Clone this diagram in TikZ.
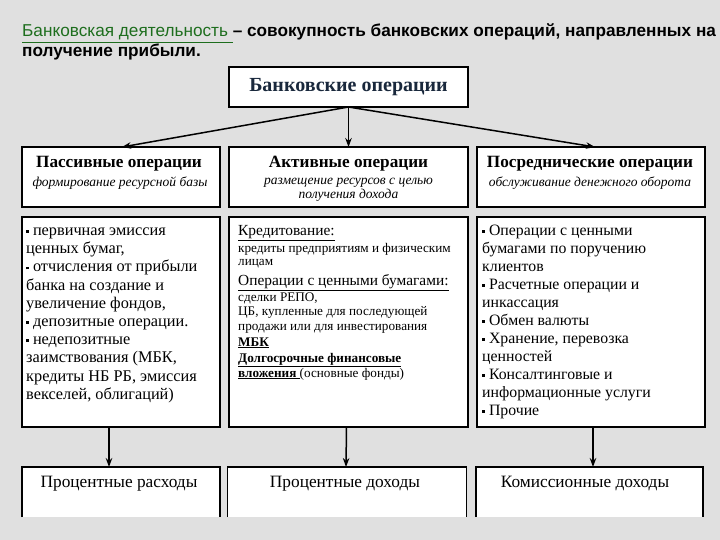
\documentclass[tikz,border=0pt]{standalone}
\usepackage{fontspec}
\setmainfont{Liberation Serif}
\newfontfamily\hsans{Liberation Sans}
\usetikzlibrary{arrows.meta}
\definecolor{bgc}{RGB}{224,224,224}
\definecolor{titlegreen}{RGB}{30,110,30}
\definecolor{navy}{RGB}{25,40,60}
\newcommand\bul{\raisebox{2.6pt}{\rule{2.8pt}{2.8pt}}\hspace{4pt}}
\begin{document}
\begin{tikzpicture}[x=1pt,y=-1pt,
  box/.style={draw=black,line width=1.2pt,fill=white,inner sep=0pt,outer sep=0pt},
  openbox/.style={fill=white,inner sep=0pt,outer sep=0pt},
  arr/.style={line width=1.5pt,-{Stealth[length=9pt,width=6.5pt]}},
  ln/.style={anchor=base west,inner sep=0pt,font=\fontsize{16.3}{18}\selectfont},
  rn/.style={anchor=base west,inner sep=0pt,font=\fontsize{15.8}{18}\selectfont},
  mn/.style={anchor=base west,inner sep=0pt,font=\fontsize{15.4}{18}\selectfont},
  sm/.style={anchor=base west,inner sep=0pt,font=\fontsize{13.2}{15}\selectfont},
  smb/.style={anchor=base west,inner sep=0pt,font=\bfseries\fontsize{13.2}{15}\selectfont},
  hd/.style={anchor=base,inner sep=0pt,font=\bfseries\fontsize{17.2}{19}\selectfont},
  sub/.style={anchor=base,inner sep=0pt,font=\itshape\fontsize{13.5}{15}\selectfont},
  bt/.style={anchor=base,inner sep=0pt,font=\fontsize{17.3}{19}\selectfont}]
\useasboundingbox (0,0) rectangle (720,540);
\fill[bgc] (0,0) rectangle (720,540);

% heading
\node[anchor=base west,inner sep=0pt,font=\hsans\fontsize{17.2}{20}\selectfont] (h1) at (22,37)
  {\textcolor{titlegreen}{\underline{Банковская деятельность }}\textbf{– совокупность банковских операций, направленных на}};
\node[anchor=base west,inner sep=0pt,font=\hsans\bfseries\fontsize{17.2}{20}\selectfont] (h2) at (22,57) {получение прибыли.};

% top box
\node[box,minimum width=239pt,minimum height=40pt,font=\bfseries\fontsize{20}{22}\selectfont,text=navy] (top) at (348.5,87) {Банковские операции};

% header row
\node[box,minimum width=198pt,minimum height=60pt] (pas) at (121,177) {};
\node[box,minimum width=239pt,minimum height=60pt] (act) at (348.5,177) {};
\node[box,minimum width=228pt,minimum height=60pt] (pos) at (591,177) {};

\node[hd] (pasT) at (119,167.5) {Пассивные операции};
\node[sub] (pasS) at (120,187) {формирование ресурсной базы};
\node[hd] (actT) at (348.5,167.5) {Активные операции};
\node[sub] (actS1) at (348.5,185) {размещение ресурсов с целью};
\node[sub] (actS2) at (348.5,199) {получения дохода};
\node[hd] (posT) at (590,167.5) {Посреднические операции};
\node[sub] (posS) at (590,187) {обслуживание денежного оборота};

\draw[arr] (top.south) -- ([xshift=1pt]pas.north);
\draw[arr] (top.south) -- (act.north);
\draw[arr] (top.south) -- ([xshift=4pt]pos.north);

% content row
\node[box,minimum width=198pt,minimum height=210pt] (c1) at (121,322) {};
\node[box,minimum width=239pt,minimum height=210pt] (c2) at (348.5,322) {};
\node[box,minimum width=228pt,minimum height=210pt] (c3) at (591,322) {};

\foreach \t [count=\i] in {{\bul первичная эмиссия},{ценных бумаг,},{\bul отчисления от прибыли},
  {банка на создание и},{увеличение фондов,},{\bul депозитные операции.},{\bul недепозитные},
  {заимствования (МБК,},{кредиты НБ РБ, эмиссия},{векселей, облигаций)}}
  \node[ln] (L\i) at (26,{235.5+18.2*(\i-1)}) {\t};

\foreach \t [count=\i] in {{\bul Операции с ценными},{бумагами по поручению},{клиентов},
  {\bul Расчетные операции и},{инкассация},{\bul Обмен валюты},{\bul Хранение, перевозка},
  {ценностей},{\bul Консалтинговые и},{информационные услуги},{\bul Прочие}}
  \node[rn] (R\i) at (482,{235.5+18*(\i-1)}) {\t};

\node[mn] (M1) at (238,236) {\underline{Кредитование:}};
\node[sm] (M2) at (238,252) {кредиты предприятиям и физическим};
\node[sm] (M3) at (238,265.5) {лицам};
\node[mn] (M4) at (238,285.5) {\underline{Операции с ценными бумагами:}};
\node[sm] (M5) at (238,301) {сделки РЕПО,};
\node[sm] (M6) at (238,315.5) {ЦБ, купленные для последующей};
\node[sm] (M7) at (238,330.5) {продажи или для инвестирования};
\node[smb] (M8) at (238,346) {\underline{МБК}};
\node[smb] (M9) at (238,362) {\underline{Долгосрочные финансовые}};
\node[sm] (M10) at (238,377) {\underline{\textbf{вложения }}(основные фонды)};

% bottom row
\node[openbox,minimum width=198pt,minimum height=50pt] (b1) at (121,492) {};
\node[openbox,minimum width=239pt,minimum height=50pt] (b2) at (347,492) {};
\node[openbox,minimum width=227pt,minimum height=50pt] (b3) at (589.5,492) {};
\foreach \b in {b1,b2,b3}
  \draw[line width=1.2pt] (\b.south west) -- (\b.north west) -- (\b.north east) -- (\b.south east);
\node[bt] (b1t) at (119,487.5) {Процентные расходы};
\node[bt] (b2t) at (345,487.5) {Процентные доходы};
\node[bt] (b3t) at (585,487.5) {Комиссионные доходы};

\draw[arr] ([xshift=-12pt]c1.south) -- ([xshift=-12pt]b1.north);
\draw[arr] ([xshift=-2pt]c2.south) -- ([xshift=-1pt]b2.north);
\draw[arr] ([xshift=2pt]c3.south) -- ([xshift=3.5pt]b3.north);
\end{tikzpicture}
\end{document}
